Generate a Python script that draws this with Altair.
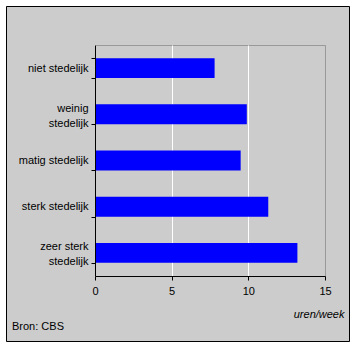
import altair as alt
import pandas as pd

categories = ["niet stedelijk", "weinig stedelijk", "matig stedelijk",
              "sterk stedelijk", "zeer sterk stedelijk"]
values = [7.8, 9.9, 9.5, 11.3, 13.2]
x_ticks = [0, 5, 10, 15]
x_title = "uren/week"
source_note = ["Bron: CBS"]
# two-line axis labels (nbsp used to centre the shorter line)
label_lines = {
    "weinig stedelijk": ["weinig\u00a0\u00a0", "stedelijk"],
    "zeer sterk stedelijk": ["zeer sterk", "stedelijk\u00a0\u00a0"],
}

FONT = "Liberation Sans"

df = pd.DataFrame({"cat": categories, "val": values})

expr = "datum.value"
for k, v in label_lines.items():
    arr = "[" + ", ".join("'" + s + "'" for s in v) + "]"
    expr = f"datum.value == '{k}' ? {arr} : ({expr})"
multi_test = " || ".join(f"datum.value == '{k}'" for k in label_lines)

bars = alt.Chart(df).mark_bar(color="#0000ff").encode(
    x=alt.X("val:Q",
            scale=alt.Scale(domain=[0, 15], nice=False),
            axis=alt.Axis(values=x_ticks, title=x_title,
                          grid=True, labelFlush=False,
                          gridColor={"condition": {"test": "datum.value == 15", "value": "#999999"},
                                     "value": "#ffffff"},
                          domainColor="#000000", tickColor="#000000", tickSize=4,
                          labelFont=FONT, labelFontSize=11, labelColor="#000000",
                          labelPadding=5,
                          titleFont=FONT, titleFontSize=11, titleFontStyle="italic",
                          titleFontWeight="normal", titleColor="#000000",
                          titleX=249, titleY=41, titleAlign="right",
                          titleBaseline="alphabetic")),
    y=alt.Y("cat:N", sort=categories,
            scale=alt.Scale(paddingInner=0.57, paddingOuter=0.285),
            axis=alt.Axis(title=None, grid=False, tickBand="extent",
                          domainColor="#000000", tickColor="#000000", tickSize=4,
                          labelFont=FONT, labelFontSize=11, labelColor="#000000",
                          labelPadding=3, labelLineHeight=15,
                          labelOffset={"condition": {"test": multi_test, "value": -6},
                                       "value": 0},
                          labelExpr=expr, zindex=1)),
)

# outer white margin and black frame
frame_white = alt.Chart(alt.Data(values=[{}])).mark_rect(
    fillOpacity=0, stroke="#ffffff", strokeWidth=12
).encode(x=alt.value(-95), x2=alt.value(261), y=alt.value(-45), y2=alt.value(303))

frame_black = alt.Chart(alt.Data(values=[{}])).mark_rect(
    fillOpacity=0, stroke="#000000", strokeWidth=1
).encode(x=alt.value(-88.5), x2=alt.value(254.5), y=alt.value(-38.5), y2=alt.value(296.5))

note = alt.Chart(pd.DataFrame({"t": source_note})).mark_text(
    align="left", baseline="alphabetic", font=FONT, fontSize=11, color="#000000"
).encode(text="t:N", x=alt.value(-83), y=alt.value(285))

chart = alt.layer(frame_white, frame_black, bars, note).properties(
    width=230, height=231,
    background="#cccccc",
    padding={"left": 95, "top": 45, "right": 31, "bottom": 72},
    autosize=alt.AutoSizeParams(type="none"),
).configure_view(fill="#cccccc", stroke="#999999", strokeWidth=1)

chart.save("out.html", embed_options={"renderer": "svg", "actions": False})
